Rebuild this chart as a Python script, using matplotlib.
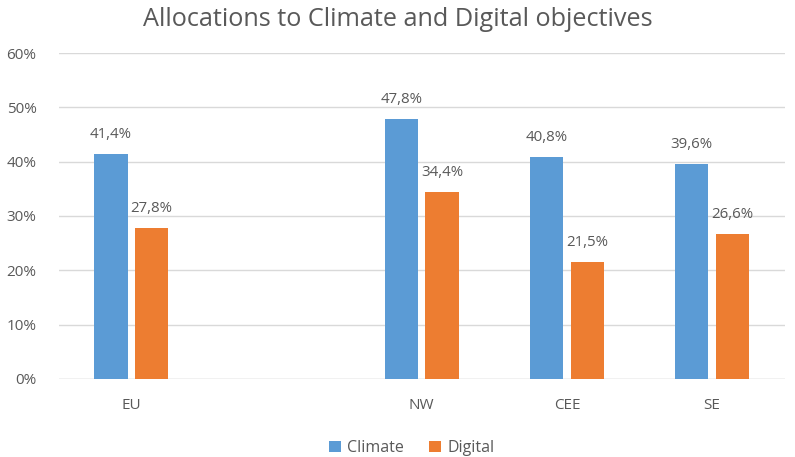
import matplotlib.pyplot as plt
import numpy as np

regions = ["EU", "", "NW", "CEE", "SE"]
climate = [41.4, None, 47.8, 40.8, 39.6]
digital = [27.8, None, 34.4, 21.5, 26.6]

blue = "#5B9BD5"
orange = "#ED7D31"
grey = "#595959"

plt.rcParams['font.family'] = ['Open Sans', 'DejaVu Sans']

fig = plt.figure(figsize=(7.95, 4.57), dpi=100)
ax = fig.add_axes([0.074, 0.171, 0.913, 0.713])

x = np.arange(len(regions))
width = 0.23
off = 0.14

for i in range(len(regions)):
    if climate[i] is None:
        continue
    ax.bar(x[i] - off, climate[i], width, color=blue, zorder=2,
           label="Climate" if i == 0 else None)
    ax.bar(x[i] + off, digital[i], width, color=orange, zorder=2,
           label="Digital" if i == 0 else None)
    ax.text(x[i] - off, climate[i] + 2.2, f"{climate[i]:.1f}%".replace(".", ","),
            ha="center", va="bottom", fontsize=10.8, color=grey)
    ax.text(x[i] + off, digital[i] + 2.2, f"{digital[i]:.1f}%".replace(".", ","),
            ha="center", va="bottom", fontsize=10.8, color=grey)

ax.set_xlim(-0.5, len(regions) - 0.5)
ax.set_ylim(0, 60)
ax.set_yticks(range(0, 61, 10))
ax.set_yticklabels([f"{v}%" for v in range(0, 61, 10)])
ax.set_xticks(x)
ax.set_xticklabels(regions)
ax.tick_params(axis="both", length=0, labelsize=11, labelcolor=grey)
ax.tick_params(axis="x", pad=14)
ax.tick_params(axis="y", pad=16)
ax.yaxis.grid(True, color="#d9d9d9", linewidth=1, zorder=0)
for s in ax.spines.values():
    s.set_visible(False)
ax.axhline(0, color="#d9d9d9", linewidth=1, zorder=1)

fig.suptitle("Allocations to Climate and Digital objectives", fontsize=18.2,
             color=grey, y=0.985)
fig.legend(loc="lower center", ncol=2, frameon=False, fontsize=11.5,
           labelcolor=grey, bbox_to_anchor=(0.518, -0.03), handlelength=0.7,
           handleheight=0.7, columnspacing=1.6, handletextpad=0.4)

fig.savefig("out.png", dpi=100)
